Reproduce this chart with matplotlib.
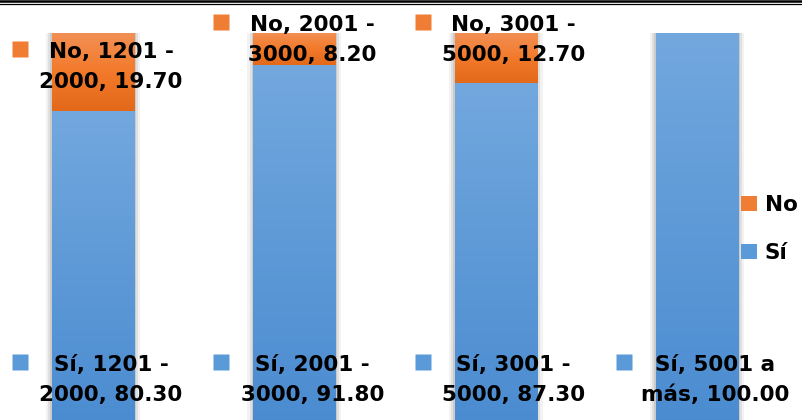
import numpy as np
import matplotlib.pyplot as plt
from matplotlib.colors import LinearSegmentedColormap
from matplotlib.patches import Patch, Rectangle
from matplotlib.transforms import offset_copy
from matplotlib.lines import Line2D

# datos
categories = ['1201 - 2000', '2001 - 3000', '3001 - 5000', '5001 a más']
si_values = [80.30, 91.80, 87.30, 100.00]
no_values = [19.70, 8.20, 12.70, 0.00]
series_names = ['Sí', 'No']

# posicion vertical de las etiquetas (unidades del eje)
si_label_y = [12.4, 12.4, 12.4, 12.4]
no_label_y = [91.4, 98.2, 98.2, None]

blue_top, blue_bot = '#72a8de', '#4a8bd0'
orange_top, orange_bot = '#f39056', '#e2691a'

plt.rcParams['font.family'] = ['DejaVu Sans']
FS = 15.5

fig = plt.figure(figsize=(8.02, 4.2), dpi=100)
ax = fig.add_axes([0, -9 / 420, 1, 396 / 420])
ax.set_axis_off()

x = np.arange(len(categories))
width = 0.408

cm_blue = LinearSegmentedColormap.from_list('b', [blue_bot, blue_top])
cm_orange = LinearSegmentedColormap.from_list('o', [orange_bot, '#f27a2a', orange_top])
grad = np.linspace(0, 1, 256).reshape(-1, 1)


def grad_bar(xc, bottom, height, cmap):
    if height <= 0:
        return
    x0, x1 = xc - width / 2, xc + width / 2
    # sombra suave
    for k, a in [(0.03, 0.05), (0.018, 0.07), (0.008, 0.09)]:
        ax.add_patch(Rectangle((x0 - k, bottom), width + 2 * k, height,
                               color='black', alpha=a, lw=0, zorder=1))
    ax.imshow(grad, extent=[x0, x1, bottom, bottom + height], origin='lower',
              aspect='auto', cmap=cmap, zorder=2, interpolation='bicubic')


for i in range(len(categories)):
    grad_bar(x[i], 0, si_values[i], cm_blue)
    grad_bar(x[i], si_values[i], no_values[i], cm_orange)


def data_label(xc, y, series, cat, val, color):
    a, b = cat.rsplit(' ', 1)
    txt = f'{series}, {a}\n{b}, {val:.2f}'
    tr = offset_copy(ax.transData, fig=fig, x=18, y=0, units='dots')
    ax.text(xc, y, txt, transform=tr, ha='center', va='center',
            multialignment='center', fontsize=FS, fontweight='bold',
            linespacing=1.6, zorder=5, color='black')
    trm = offset_copy(ax.transData, fig=fig, x=-73, y=18, units='dots')
    ax.plot([xc], [y], marker='s', ms=11.5, color=color, mec='none',
            transform=trm, zorder=5, clip_on=False)


for i, cat in enumerate(categories):
    data_label(x[i], si_label_y[i], 'Sí', cat, si_values[i], '#5b9ad8')
    if no_values[i] > 0:
        data_label(x[i], no_label_y[i], 'No', cat, no_values[i], '#ef7d33')

ax.set_xlim(-93 / 201, 3 + 105 / 201)
ax.set_ylim(0, 100)

handles = [Patch(facecolor='#ef7d33', edgecolor='none', label='No'),
           Patch(facecolor='#5b9ad8', edgecolor='none', label='Sí')]
leg = fig.legend(handles=handles, loc='center left', bbox_to_anchor=(741 / 802, 1 - 229 / 420),
                 frameon=False, handlelength=0.72, handleheight=0.72, handletextpad=0.38,
                 labelspacing=1.3, borderaxespad=0, borderpad=0,
                 prop={'size': FS, 'weight': 'bold'})

# lineas del borde superior
fig.add_artist(Line2D([0, 1], [1 - 1.2 / 420, 1 - 1.2 / 420], transform=fig.transFigure,
                      color='black', lw=1.8))
fig.add_artist(Line2D([0, 1], [1 - 4 / 420, 1 - 4 / 420], transform=fig.transFigure,
                      color='black', lw=0.9))

fig.savefig('out.png', dpi=100)
